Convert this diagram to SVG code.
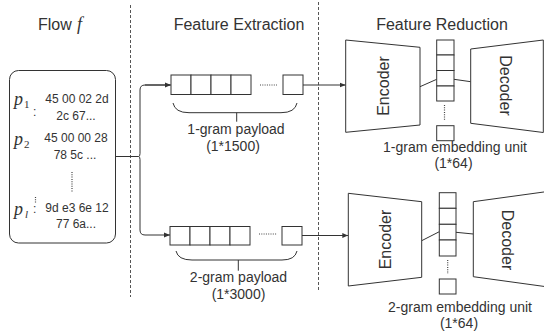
<svg xmlns="http://www.w3.org/2000/svg" width="544" height="334" viewBox="0 0 544 334">
<defs>
<marker id="arr" viewBox="0 0 6 6" refX="6" refY="3" markerWidth="6" markerHeight="6" markerUnits="userSpaceOnUse" orient="auto">
<path d="M0,0.6 L6,3 L0,5.4 Z" fill="#333"/>
</marker>
</defs>
<style>
text{font-family:"Liberation Sans",Arial,sans-serif;fill:#333}
.t{font-size:16px}
.l{font-size:14px}
.h{font-size:12px}
.m{font-family:"Liberation Serif","Times New Roman",serif;font-style:italic}
.sub{font-family:"Liberation Serif","Times New Roman",serif;font-size:11px}
.ln{stroke:#333;stroke-width:1;fill:none}
.cell{stroke:#333;stroke-width:1;fill:#fff}
.dash{stroke:#555;stroke-width:1;stroke-dasharray:3,2;fill:none}
.dot{stroke:#444;stroke-width:1.2;stroke-dasharray:1,1.3;fill:none}
.trap{stroke:#333;stroke-width:1;fill:#fff}
</style>

<g id="separators">
<line class="dash" x1="130.5" y1="5" x2="130.5" y2="297"/>
<line class="dash" x1="318.5" y1="2" x2="318.5" y2="292"/>
</g>

<g id="titles">
<text class="t" x="38" y="30">Flow</text>
<text class="m" x="77" y="30" font-size="18">f</text>
<text class="t" x="239" y="30" text-anchor="middle">Feature Extraction</text>
<text class="t" x="442" y="30" text-anchor="middle">Feature Reduction</text>
</g>

<g id="connectors">
<path class="ln" d="M115.5,156.5 H138.5"/>
<path class="ln" d="M170,85 H145 Q140,85 140,90 V153.5 Q140,156.5 138.5,156.5 Q140,156.5 140,159.5 V230 Q140,235 145,235 H170" marker-end="url(#arr)"/>
<path class="ln" d="M145,85 H171" marker-end="url(#arr)"/>
<path class="ln" d="M303,85 H345.7" marker-end="url(#arr)"/>
<path class="ln" d="M302,235.5 H348.3" marker-end="url(#arr)"/>
<path class="ln" d="M420,86.7 L436.7,79.3"/>
<path class="ln" d="M454,79.3 L470.7,81.7"/>
<path class="ln" d="M421.7,240.7 L439.3,231.7"/>
<path class="ln" d="M456,232.3 L473.3,234"/>
</g>

<g id="flow">
<rect x="9.5" y="70.5" width="106" height="172.5" rx="9" ry="9" fill="#fff" stroke="#333" stroke-width="1"/>
<text class="m" x="14" y="105" font-size="18">p</text>
<text class="sub" x="24" y="108">1</text>
<text class="h" x="33" y="116" font-size="10">:</text>
<text class="h" x="77" y="103" text-anchor="middle">45 00 02 2d</text>
<text class="h" x="76" y="120" text-anchor="middle">2c 67...</text>
<text class="m" x="14" y="145" font-size="18">p</text>
<text class="sub" x="24" y="148">2</text>
<text class="h" x="76" y="142" text-anchor="middle">45 00 00 28</text>
<text class="h" x="75" y="159" text-anchor="middle">78 5c ...</text>
<line class="dot" x1="72" y1="172" x2="72" y2="192"/>
<text class="m" x="14" y="215" font-size="18">p</text>
<text class="m" x="25" y="218" font-size="11">l</text>
<line class="dot" x1="35.5" y1="197" x2="35.5" y2="204"/>
<text class="h" x="33" y="213" font-size="11">:</text>
<text class="h" x="77" y="212" text-anchor="middle">9d e3 6e 12</text>
<text class="h" x="76" y="228" text-anchor="middle">77 6a...</text>
</g>

<g id="payload1">
<rect class="cell" x="171" y="75" width="20" height="19.5"/>
<rect class="cell" x="191" y="75" width="20" height="19.5"/>
<rect class="cell" x="211" y="75" width="20" height="19.5"/>
<rect class="cell" x="231" y="75" width="20" height="19.5"/>
<line class="dot" x1="260" y1="85" x2="277" y2="85"/>
<rect class="cell" x="283" y="75" width="20" height="19.5"/>
<path class="ln" d="M173,103 Q175,112.7 189,112.7 H281 Q295,112.7 297,103 M236.7,112.7 V121.7"/>
<text class="l" x="236" y="134" text-anchor="middle">1-gram payload</text>
<text class="l" x="233" y="151" text-anchor="middle">(1*1500)</text>
</g>

<g id="payload2">
<rect class="cell" x="170" y="226.5" width="20" height="18.5"/>
<rect class="cell" x="190" y="226.5" width="20" height="18.5"/>
<rect class="cell" x="210" y="226.5" width="20" height="18.5"/>
<rect class="cell" x="230" y="226.5" width="20" height="18.5"/>
<line class="dot" x1="259" y1="234" x2="277" y2="234"/>
<rect class="cell" x="282" y="226.5" width="20" height="18.5"/>
<path class="ln" d="M176,251 Q178,260 192,260 H282 Q295,260 297,251 M238.3,260 V270.7"/>
<text class="l" x="238.5" y="282" text-anchor="middle">2-gram payload</text>
<text class="l" x="238.5" y="299" text-anchor="middle">(1*3000)</text>
</g>

<g id="encoder1">
<path class="trap" d="M345.7,40 L420,47.3 L420,125 L345.7,132.3 Z"/>
<text class="t" transform="translate(389,86) rotate(-90)" text-anchor="middle">Encoder</text>
</g>
<g id="embedding1">
<rect class="cell" x="436.7" y="40" width="17.3" height="15"/>
<rect class="cell" x="436.7" y="55" width="17.3" height="15.5"/>
<rect class="cell" x="436.7" y="70.5" width="17.3" height="15.5"/>
<rect class="cell" x="436.7" y="86" width="17.3" height="15"/>
<line class="dot" x1="444.5" y1="105" x2="444.5" y2="120"/>
<rect class="cell" x="436.7" y="125.7" width="17.3" height="15"/>
<text class="l" x="455" y="152" text-anchor="middle">1-gram embedding unit</text>
<text class="l" x="453.5" y="168" text-anchor="middle">(1*64)</text>
</g>
<g id="decoder1">
<path class="trap" d="M470.7,49 L543.3,40 L543.3,132.5 L470.7,123.3 Z"/>
<text class="t" transform="translate(499.5,85.5) rotate(90)" text-anchor="middle">Decoder</text>
</g>

<g id="encoder2">
<path class="trap" d="M348.3,193.3 L421.7,201.7 L421.7,277.3 L348.3,286 Z"/>
<text class="t" transform="translate(390.5,239.5) rotate(-90)" text-anchor="middle">Encoder</text>
</g>
<g id="embedding2">
<rect class="cell" x="439.3" y="192.7" width="16.7" height="15.6"/>
<rect class="cell" x="439.3" y="208.3" width="16.7" height="16"/>
<rect class="cell" x="439.3" y="224.3" width="16.7" height="15.7"/>
<rect class="cell" x="439.3" y="240" width="16.7" height="16"/>
<line class="dot" x1="447.7" y1="260" x2="447.7" y2="274"/>
<rect class="cell" x="439.3" y="279" width="16.7" height="15"/>
<text class="l" x="460" y="312" text-anchor="middle">2-gram embedding unit</text>
<text class="l" x="459" y="328" text-anchor="middle">(1*64)</text>
</g>
<g id="decoder2">
<path class="trap" d="M473.3,201.7 L546,191.7 L546,286.7 L473.3,276.7 Z"/>
<text class="t" transform="translate(501.5,240) rotate(90)" text-anchor="middle">Decoder</text>
</g>
</svg>
